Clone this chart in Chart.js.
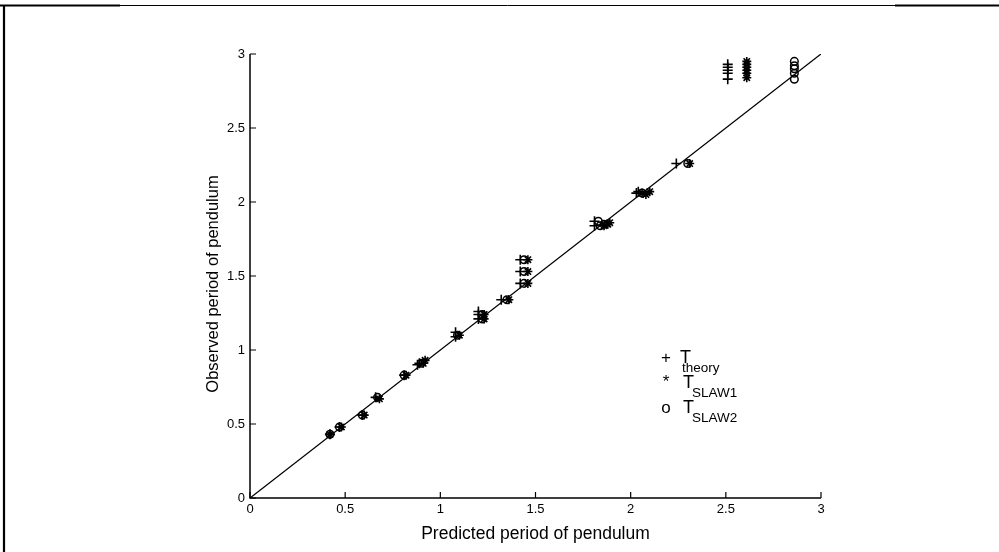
<!DOCTYPE html>
<html>
<head>
<meta charset="utf-8">
<title>Observed vs predicted period of pendulum</title>
<script src="https://cdn.jsdelivr.net/npm/chart.js@4/dist/chart.umd.min.js"></script>
<style>
body { margin: 0; background: #fff; }
</style>
</head>
<body>
<canvas id="myChart" width="999" height="552"></canvas>
<script>
// values (predicted period, observed period)
var theoryX = [0.42, 0.47, 0.59, 0.66, 0.81, 0.88, 0.89, 1.08, 1.08, 1.20, 1.20, 1.20, 1.32,
    1.42, 1.42, 1.42, 1.81, 1.81, 2.03, 2.04, 2.24, 2.51, 2.51, 2.51, 2.51, 2.51];
var theoryY = [0.43, 0.48, 0.56, 0.68, 0.83, 0.90, 0.91, 1.09, 1.12, 1.21, 1.24, 1.26, 1.34,
    1.45, 1.53, 1.61, 1.84, 1.87, 2.06, 2.07, 2.26, 2.83, 2.87, 2.89, 2.91, 2.93];

var slaw1X = [0.42, 0.48, 0.60, 0.68, 0.82, 0.91, 0.92, 1.10, 1.23, 1.23, 1.36, 1.46, 1.46,
    1.46, 1.86, 1.88, 1.89, 2.06, 2.08, 2.10, 2.31, 2.61, 2.61, 2.61, 2.61, 2.61, 2.61];
var slaw1Y = [0.43, 0.48, 0.56, 0.67, 0.83, 0.91, 0.93, 1.10, 1.21, 1.24, 1.34, 1.45, 1.53,
    1.61, 1.84, 1.85, 1.86, 2.06, 2.05, 2.07, 2.26, 2.84, 2.87, 2.89, 2.91, 2.93, 2.95];

var slaw2X = [0.42, 0.47, 0.59, 0.67, 0.81, 0.90, 1.09, 1.22, 1.22, 1.35, 1.44, 1.44, 1.44,
    1.83, 1.84, 1.86, 2.06, 2.30, 2.86, 2.86, 2.86, 2.86, 2.86];
var slaw2Y = [0.43, 0.48, 0.56, 0.68, 0.83, 0.91, 1.10, 1.21, 1.24, 1.34, 1.45, 1.53, 1.61,
    1.87, 1.84, 1.85, 2.06, 2.26, 2.83, 2.87, 2.90, 2.92, 2.95];

// y = x reference line
var lineX = [0, 3];
var lineY = [0, 3];

var tickValues = [0, 0.5, 1, 1.5, 2, 2.5, 3];
var tickLabels = ['0', '0.5', '1', '1.5', '2', '2.5', '3'];

var legendMarks = ['+', '*', 'o'];
var legendNames = ['theory', 'SLAW1', 'SLAW2'];

var yTitle = 'Observed period of pendulum';

function toPoints(xs, ys) {
    return xs.map(function (x, i) { return { x: x, y: ys[i] }; });
}

var fontFamily = '"Liberation Sans", Arial, sans-serif';

// axes lines, inward ticks, y title, legend with subscripts and the page frame
var extrasPlugin = {
    id: 'extras',
    afterDraw: function (chart) {
        var ctx = chart.ctx;
        var a = chart.chartArea;
        var xs = chart.scales.x;
        var ys = chart.scales.y;
        ctx.save();
        ctx.strokeStyle = '#000';
        ctx.fillStyle = '#000';

        ctx.lineWidth = 1.5;
        ctx.beginPath();
        ctx.moveTo(a.left, a.top);
        ctx.lineTo(a.left, a.bottom);
        ctx.lineTo(a.right, a.bottom);
        ctx.stroke();

        ctx.lineWidth = 1.2;
        tickValues.forEach(function (v) {
            var px = xs.getPixelForValue(v);
            var py = ys.getPixelForValue(v);
            ctx.beginPath();
            ctx.moveTo(px, a.bottom);
            ctx.lineTo(px, a.bottom - 6);
            ctx.moveTo(a.left, py);
            ctx.lineTo(a.left + 6, py);
            ctx.stroke();
        });

        // y axis title sits a little below the middle of the axis
        ctx.save();
        ctx.translate(213, (a.top + a.bottom) / 2 + 8);
        ctx.rotate(-Math.PI / 2);
        ctx.textAlign = 'center';
        ctx.textBaseline = 'middle';
        ctx.font = '16.5px ' + fontFamily;
        ctx.fillText(yTitle, 0, 0);
        ctx.restore();

        // legend
        var lx = 665, ly = 363;
        for (var i = 0; i < legendMarks.length; i++) {
            var y = ly + i * 25;
            ctx.textAlign = 'center';
            ctx.textBaseline = 'alphabetic';
            ctx.font = '17px ' + fontFamily;
            ctx.fillText(legendMarks[i], lx + 1, y - (i === 1 ? 1 : 0));
            ctx.textAlign = 'left';
            ctx.font = '18px ' + fontFamily;
            ctx.fillText('T', i === 0 ? 680 : 683, y);
            ctx.font = '13.5px ' + fontFamily;
            ctx.fillText(legendNames[i], i === 0 ? 682 : 692, y + 9);
        }

        // page frame
        ctx.lineWidth = 1;
        ctx.beginPath();
        ctx.moveTo(120, 5.5);
        ctx.lineTo(895, 5.5);
        ctx.stroke();
        ctx.lineWidth = 2.2;
        ctx.beginPath();
        ctx.moveTo(0, 5.5);
        ctx.lineTo(120, 5.5);
        ctx.moveTo(895, 5.5);
        ctx.lineTo(999, 5.5);
        ctx.moveTo(4, 4.5);
        ctx.lineTo(4, 552);
        ctx.stroke();
        ctx.restore();
    }
};

var ctx = document.getElementById('myChart').getContext('2d');

var myChart = new Chart(ctx, {
    type: 'scatter',
    data: {
        datasets: [{
            label: 'T theory',
            data: toPoints(theoryX, theoryY),
            pointStyle: 'cross',
            pointRadius: 5,
            borderColor: '#000',
            borderWidth: 1.6
        }, {
            label: 'T SLAW1',
            data: toPoints(slaw1X, slaw1Y),
            pointStyle: 'star',
            pointRadius: 4.5,
            borderColor: '#000',
            borderWidth: 1.6
        }, {
            label: 'T SLAW2',
            data: toPoints(slaw2X, slaw2Y),
            pointStyle: 'circle',
            pointRadius: 3.8,
            backgroundColor: 'rgba(0,0,0,0)',
            borderColor: '#000',
            borderWidth: 1.5
        }, {
            type: 'line',
            label: 'y = x',
            data: toPoints(lineX, lineY),
            borderColor: '#000',
            borderWidth: 1.3,
            pointRadius: 0,
            fill: false
        }]
    },
    options: {
        responsive: false,
        animation: false,
        layout: {
            padding: { top: 54, right: 178, bottom: 0, left: 0 }
        },
        plugins: {
            legend: { display: false },
            tooltip: { enabled: false }
        },
        scales: {
            x: {
                type: 'linear',
                min: 0,
                max: 3,
                grid: { display: false, drawTicks: false, tickLength: 0 },
                border: { display: false },
                afterBuildTicks: function (scale) {
                    scale.ticks = tickValues.map(function (v) { return { value: v }; });
                },
                afterFit: function (scale) {
                    scale.height = 54;
                    scale.paddingLeft = 0;
                    scale.paddingRight = 0;
                },
                ticks: {
                    color: '#000',
                    padding: 4,
                    maxRotation: 0,
                    font: { family: fontFamily, size: 13 },
                    callback: function (v, i) { return tickLabels[i]; }
                },
                title: {
                    display: true,
                    text: 'Predicted period of pendulum',
                    color: '#000',
                    font: { family: fontFamily, size: 17.5 },
                    padding: { top: 0, bottom: 7.5 }
                }
            },
            y: {
                type: 'linear',
                min: 0,
                max: 3,
                grid: { display: false, drawTicks: false, tickLength: 0 },
                border: { display: false },
                afterBuildTicks: function (scale) {
                    scale.ticks = tickValues.map(function (v) { return { value: v }; });
                },
                afterFit: function (scale) {
                    scale.width = 250;
                    scale.paddingTop = 0;
                    scale.paddingBottom = 0;
                },
                ticks: {
                    color: '#000',
                    padding: 5,
                    font: { family: fontFamily, size: 13 },
                    callback: function (v, i) { return tickLabels[i]; }
                }
            }
        }
    },
    plugins: [extrasPlugin]
});
</script>
</body>
</html>
